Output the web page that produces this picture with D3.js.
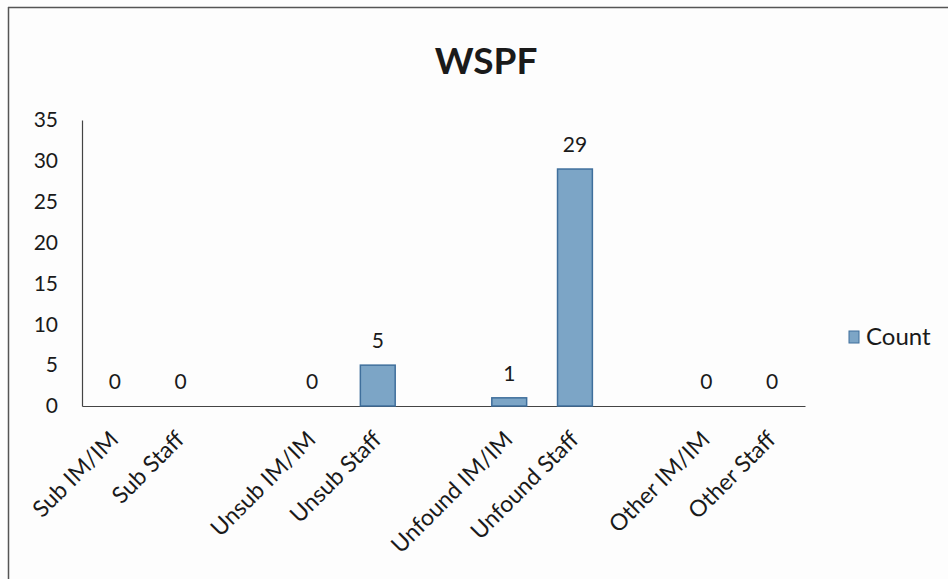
<!DOCTYPE html>
<html>
<head>
<meta charset="utf-8">
<script src="https://cdn.jsdelivr.net/npm/d3@7"></script>
<style>
html,body{margin:0;padding:0;background:#fdfdfd;}
text{font-family:Lato,"Open Sans",sans-serif;fill:#1a1a1a;}
</style>
</head>
<body>
<svg id="chart" width="948" height="579"></svg>
<script>
const categories = ["Sub IM/IM","Sub Staff","","Unsub IM/IM","Unsub Staff"," ","Unfound IM/IM","Unfound Staff","  ","Other IM/IM","Other Staff"];
const counts = [0,0,null,0,5,null,1,29,null,0,0];
const yTicks = [0,5,10,15,20,25,30,35];
const title = "WSPF";
const seriesName = "Count";

const svg = d3.select("#chart");
const m = {left:82, right:805, top:120, bottom:406};

// frame
svg.append("line").attr("x1",8).attr("x2",948).attr("y1",7.5).attr("y2",7.5).attr("stroke","#555").attr("stroke-width",1.5);
svg.append("line").attr("x1",8.5).attr("x2",8.5).attr("y1",7).attr("y2",579).attr("stroke","#555").attr("stroke-width",1.5);

const x = d3.scaleBand().domain(categories).range([m.left,m.right]).paddingInner(0.47).paddingOuter(0.235);
const y = d3.scaleLinear().domain([0,35]).range([m.bottom,m.top]);

svg.append("text").attr("x",486).attr("y",74).attr("text-anchor","middle")
  .style("font-size","37px").style("font-weight","bold").style("font-stretch","condensed").text(title);

// y axis
const ya = svg.append("g").attr("transform",`translate(${m.left},0)`)
  .call(d3.axisLeft(y).tickValues(yTicks).tickSize(0).tickPadding(24));
ya.select(".domain").attr("stroke","#444").attr("stroke-width",1.2);
ya.selectAll("text").style("font-size","21px").style("font-family","Lato,'Open Sans',sans-serif").attr("fill","#1a1a1a");

// x axis
const xa = svg.append("g").attr("transform",`translate(0,${m.bottom})`)
  .call(d3.axisBottom(x).tickSize(0).tickFormat(d=>d.trim()));
xa.select(".domain").attr("stroke","#444").attr("stroke-width",1.2);
xa.selectAll("text").style("font-size","23px").style("font-family","Lato,'Open Sans',sans-serif").attr("fill","#1a1a1a")
  .attr("text-anchor","end").attr("dy","0").attr("y",0)
  .attr("transform","translate(5,35) rotate(-45)");

const data = categories.map((c,i)=>({c, v:counts[i]})).filter(d=>d.v!==null);

svg.append("g").selectAll("rect").data(data).join("rect")
  .attr("x",d=>x(d.c)).attr("width",x.bandwidth())
  .attr("y",d=>y(d.v)).attr("height",d=>y(0)-y(d.v))
  .attr("fill","#7ca5c6").attr("stroke","#3f6f9c").attr("stroke-width",1.5);

svg.append("g").selectAll("text").data(data).join("text")
  .attr("x",d=>x(d.c)+x.bandwidth()/2).attr("y",d=>y(d.v)-17)
  .attr("text-anchor","middle").style("font-size","21px").text(d=>d.v);

// legend
svg.append("rect").attr("x",849).attr("y",331).attr("width",10).attr("height",12)
  .attr("fill","#7ca5c6").attr("stroke","#3f6f9c").attr("stroke-width",1);
svg.append("text").attr("x",866).attr("y",345).style("font-size","24px").text(seriesName);
</script>
</body>
</html>
